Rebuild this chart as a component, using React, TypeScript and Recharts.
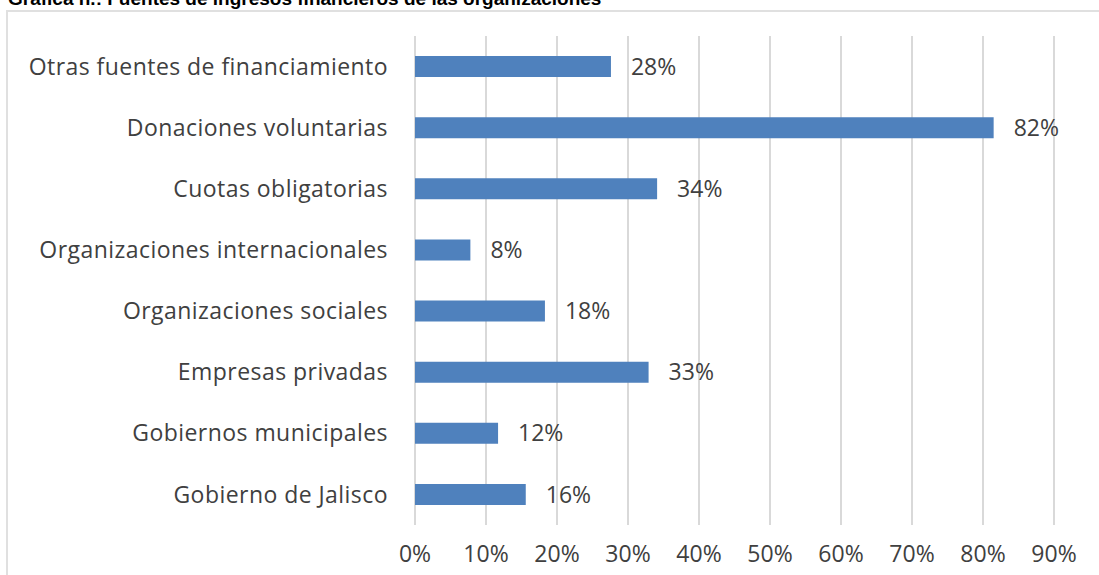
import React from 'react';
import { BarChart, Bar, XAxis, YAxis, CartesianGrid, LabelList } from 'recharts';

const categories = [
  'Otras fuentes de financiamiento',
  'Donaciones voluntarias',
  'Cuotas obligatorias',
  'Organizaciones internacionales',
  'Organizaciones sociales',
  'Empresas privadas',
  'Gobiernos municipales',
  'Gobierno de Jalisco',
];
const values = [27.6, 81.5, 34.1, 7.8, 18.3, 32.9, 11.7, 15.6];
const ticks = [0, 10, 20, 30, 40, 50, 60, 70, 80, 90];

const data = categories.map((name, i) => ({ name, value: values[i] }));

const FONT = '"Open Sans", sans-serif';
const TEXT = '#404040';

export default function App() {
  return (
    <div
      style={{
        position: 'fixed',
        left: 0,
        top: 0,
        width: 1099,
        height: 575,
        overflow: 'hidden',
        background: '#fff',
      }}
    >
      <div
        style={{
          position: 'absolute',
          left: 8,
          top: -11,
          fontFamily: '"Liberation Sans", Arial, sans-serif',
          fontWeight: 'bold',
          fontSize: 19,
          lineHeight: '20px',
          color: '#000',
          whiteSpace: 'nowrap',
        }}
      >
        Gráfica n.: Fuentes de ingresos financieros de las organizaciones
      </div>
      <div
        style={{
          position: 'absolute',
          left: 6,
          top: 10,
          width: 1200,
          height: 700,
          border: '2px solid #E0E0E0',
        }}
      />
      <div style={{ position: 'absolute', left: 0, top: 0 }}>
        <BarChart
          width={1099}
          height={575}
          data={data}
          layout="vertical"
          margin={{ top: 36, right: 45, bottom: 0, left: 0 }}
          barCategoryGap={0}
        >
          <CartesianGrid horizontal={false} stroke="#D9D9D9" strokeWidth={2} />
          <XAxis
            type="number"
            domain={[0, 90]}
            ticks={ticks}
            tickFormatter={(v) => `${v}%`}
            axisLine={false}
            tickLine={false}
            tickSize={0}
            tickMargin={21}
            height={50}
            tick={{ fill: TEXT, fontSize: 23, fontFamily: FONT }}
          />
          <YAxis
            type="category"
            dataKey="name"
            width={415}
            axisLine={false}
            tickLine={false}
            tickSize={0}
            tickMargin={27}
            tick={{ fill: TEXT, fontSize: 23, fontFamily: FONT, letterSpacing: 0.45 }}
          />
          <Bar dataKey="value" fill="#4F81BD" barSize={21} isAnimationActive={false}>
            <LabelList
              dataKey="value"
              position="right"
              offset={20}
              formatter={(v: number) => `${Math.round(v)}%`}
              style={{ fill: TEXT, fontSize: 23, fontFamily: FONT }}
            />
          </Bar>
        </BarChart>
      </div>
    </div>
  );
}
